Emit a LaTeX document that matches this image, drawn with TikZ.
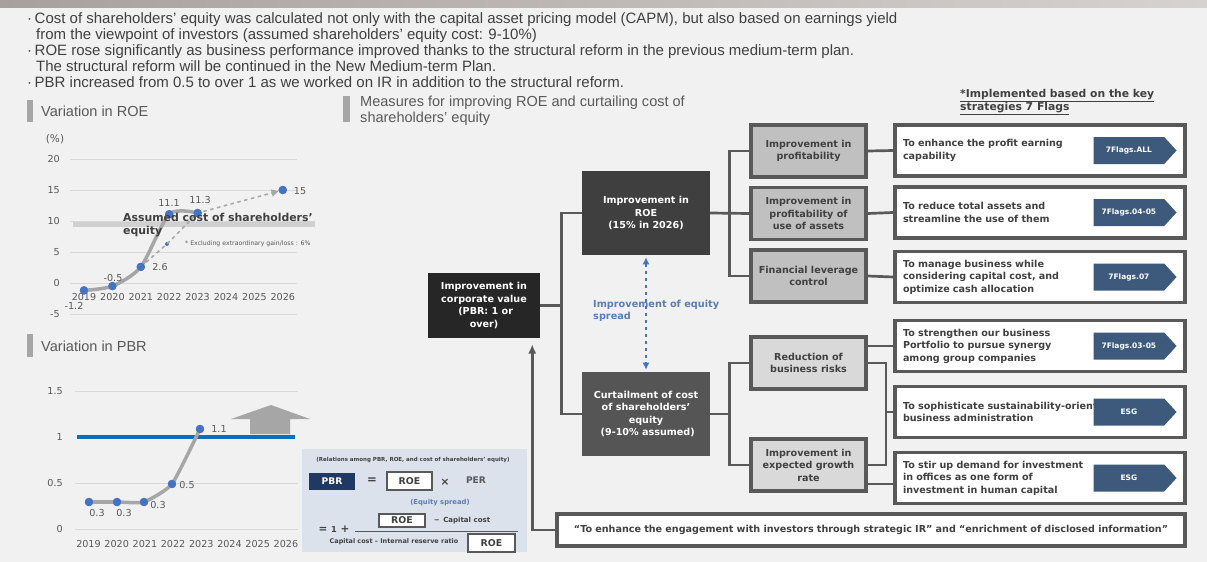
\documentclass[tikz,border=0pt]{standalone}
\usepackage{fontspec}
\setmainfont{Liberation Sans}
\newfontfamily\vfont{DejaVu Sans}
\usetikzlibrary{positioning, calc, arrows.meta, shapes.symbols}
\definecolor{linegray}{HTML}{595959}
\definecolor{corpfill}{HTML}{262626}
\definecolor{roefill}{HTML}{3F3F3F}
\definecolor{curtfill}{HTML}{555555}
\definecolor{levtop}{HTML}{C0C0C0}
\definecolor{levbot}{HTML}{D9D9D9}
\definecolor{flagblue}{HTML}{3D5A7D}
\definecolor{dotblue}{HTML}{4472C4}
\definecolor{pbrblue}{HTML}{0070C0}
\definecolor{trendgray}{HTML}{A6A6A6}
\definecolor{formbg}{HTML}{DCE2EC}
\definecolor{navy}{HTML}{1F3864}
\definecolor{textdark}{HTML}{404040}
\definecolor{spreadblue}{HTML}{5A7DB5}
\definecolor{bandgray}{HTML}{D0D0D0}
\definecolor{gridgray}{HTML}{D9D9D9}
\definecolor{pagebg}{HTML}{F1F1F1}
\definecolor{stripl}{HTML}{A8A09C}
\definecolor{stripr}{HTML}{D6D2CF}
\newcommand\boxfont{\vfont\bfseries\fontsize{8.2}{10.6}\selectfont}
\newcommand\flagfont{\vfont\bfseries\fontsize{6.4}{8}\selectfont}
\newcommand\chartfont{\vfont\fontsize{8.2}{10}\selectfont}
\tikzset{
  conn/.style={draw=linegray,line width=2.3pt},
  boxtext/.style={font=\boxfont,align=center,inner sep=0pt},
  corpbox/.style={boxtext,fill=corpfill,text=white,minimum width=3.36cm,minimum height=1.95cm},
  goalbox/.style={boxtext,text=white,minimum width=3.84cm,minimum height=2.52cm},
  levbox/.style={boxtext,draw=linegray,line width=3.2pt,text=textdark,minimum width=3.45cm,minimum height=1.56cm},
  actbox/.style={draw=linegray,line width=3.2pt,fill=white,font=\boxfont,text=textdark,align=left,text width=8.22cm,minimum width=8.7cm,minimum height=1.53cm,inner sep=0pt},
  flag/.style={signal,signal to=east,signal pointer angle=95,fill=flagblue,text=white,font=\flagfont,minimum width=2.49cm,minimum height=0.81cm,inner sep=0pt},
  spread/.style={draw=dotblue,line width=1.2pt,dashed,{Latex[length=6pt,width=6pt]}-{Latex[length=6pt,width=6pt]}},
  bullet/.style={anchor=base west,inner sep=0pt,text=textdark,font=\fontsize{12.8}{13.6}\selectfont},
  header/.style={anchor=west,inner sep=0pt,text=linegray,align=left,font=\fontsize{12.4}{13.6}\selectfont},
  hbar/.style={fill=trendgray},
  grid/.style={draw=gridgray,line width=0.5pt},
  axis/.style={inner sep=0pt,text=linegray,font=\chartfont},
  dot/.style={circle,fill=dotblue,inner sep=0pt,minimum size=0.25cm},
  trendline/.style={draw=trendgray,line width=3pt,line cap=round,line join=round},
  trend/.style={draw=trendgray,line width=1.3pt,dashed},
  ftext/.style={inner sep=0pt,text=textdark,font=\vfont\bfseries\fontsize{5.5}{7}\selectfont},
  roecell/.style={draw=linegray,line width=1pt,fill=white,text=textdark,inner sep=0pt,font=\vfont\bfseries\fontsize{8}{9}\selectfont},
}
\begin{document}
\begin{tikzpicture}[x=0.03cm,y=-0.03cm]
\useasboundingbox (0,0) rectangle (1207,562);
\fill[pagebg] (0,0) rectangle (1207,562);
\shade[left color=stripl,right color=stripr] (0,0) rectangle (1207,8);

% summary bullets
\node[bullet] (b1) at (27,23.5) {·\,Cost of shareholders’ equity was calculated not only with the capital asset pricing model (CAPM), but also based on earnings yield};
\node[bullet] (b2) at (36,39.5) {from the viewpoint of investors (assumed shareholders’ equity cost: 9-10\%)};
\node[bullet] (b3) at (27,55.5) {·\,ROE rose significantly as business performance improved thanks to the structural reform in the previous medium-term plan.};
\node[bullet] (b4) at (36,71.5) {The structural reform will be continued in the New Medium-term Plan.};
\node[bullet] (b5) at (27,87.5) {·\,PBR increased from 0.5 to over 1 as we worked on IR in addition to the structural reform.};

% section headers
\fill[hbar] (27,100) rectangle (33,122);
\node[header] (hroe) at (41,111) {Variation in ROE};
\fill[hbar] (27,334) rectangle (33,357);
\node[header] (hpbr) at (41,346) {Variation in PBR};
\fill[hbar] (343,96) rectangle (350,122);
\node[header] (hmeas) at (360,111) {Measures for improving ROE and curtailing cost of\\shareholders’ equity};
\node[inner sep=0pt,anchor=base west,text=textdark,font=\vfont\bfseries\fontsize{9.2}{11}\selectfont] (note1) at (960,97) {\underline{*Implemented based on the key}};
\node[inner sep=0pt,anchor=base west,text=textdark,font=\vfont\bfseries\fontsize{9.2}{11}\selectfont] (note2) at (960,110.5) {\underline{strategies 7 Flags}};

% ROE chart
\node[axis,font=\vfont\fontsize{9}{10}\selectfont] (pct) at (55,139) {(\%)};
\fill[bandgray] (73,221) rectangle (315,227);
\foreach \v in {20,15,10,5,0,-5} {
  \draw[grid] (70,{283-6.2*\v}) -- (297,{283-6.2*\v});
  \node[axis,anchor=east] at (60,{283-6.2*\v}) {\v};
}
\foreach \yr [count=\i from 0] in {2019,2020,2021,2022,2023,2024,2025,2026}
  \node[axis] at ({84+28.4*\i},297) {\yr};
\node[dot] (r19) at (84,290.4) {};
\node[dot] (r20) at (112.4,286.1) {};
\node[dot] (r21) at (140.8,266.9) {};
\node[dot] (r22) at (169.2,214.2) {};
\node[dot] (r23) at (197.6,213) {};
\node[dot] (r26) at (282.8,190) {};
\node[dot,minimum size=0.12cm] (rx) at (167,244) {};
\draw[trend,-{Triangle[length=6pt,width=6pt]}] (r21.center) -- (rx.center) -- (r23.center) -- (r26);
\draw[trendline] plot[smooth,tension=0.45] coordinates {(r19.center) (r20.center) (r21.center) (r22.center) (r23.center)};
\foreach \p in {r19,r20,r21,r22,r23,r26} \node[dot] at (\p) {};
\node[axis] (l19) at (74,306) {-1.2};
\node[axis] (l20) at (113,278) {-0.5};
\node[axis] (l21) at (160,267) {2.6};
\node[axis] (l22) at (169,203) {11.1};
\node[axis] (l23) at (200,200) {11.3};
\node[axis] (l26) at (300,191) {15};
\node[inner sep=0pt,anchor=west,align=left,text=textdark,font=\vfont\bfseries\fontsize{9.3}{11.5}\selectfont] (assumed) at (123,225) {Assumed cost of shareholders’\\equity};
\node[inner sep=0pt,anchor=west,text=linegray,font=\vfont\fontsize{5.3}{6}\selectfont] (excl) at (185,244) {* Excluding extraordinary gain/loss : 6\%};

% PBR chart
\foreach \v/\l in {1.5/1.5,0.5/0.5,0/0} \draw[grid] (75,{529-92*\v}) -- (298,{529-92*\v});
\foreach \v/\l in {1.5/1.5,1/1,0.5/0.5,0/0} \node[axis,anchor=east] at (63,{529-92*\v}) {\l};
\draw[draw=pbrblue,line width=2.6pt] (77,437) -- (295,437);
\foreach \yr [count=\i from 0] in {2019,2020,2021,2022,2023,2024,2025,2026}
  \node[axis] at ({88.5+28.2*\i},544) {\yr};
\fill[trendgray] (271,405) -- (310,419) -- (290,419) -- (290,434) -- (250,434) -- (250,419) -- (231,419) -- cycle;
\node[dot] (p19) at (89,502) {};
\node[dot] (p20) at (117,502) {};
\node[dot] (p21) at (144,502) {};
\node[dot] (p22) at (172,484) {};
\node[dot] (p23) at (200,429) {};
\draw[trendline] plot[smooth,tension=0.3] coordinates {(p19.center) (p20.center) (p21.center) (p22.center) (p23.center)};
\foreach \p in {p19,p20,p21,p22,p23} \node[dot] at (\p) {};
\node[axis] (m19) at (97,513) {0.3};
\node[axis] (m20) at (124,513) {0.3};
\node[axis] (m21) at (158,505) {0.3};
\node[axis] (m22) at (187,485) {0.5};
\node[axis] (m23) at (219,429) {1.1};

% formula panel
\node[fill=formbg,minimum width=6.75cm,minimum height=3.09cm,inner sep=0pt] (frm) at (414.5,500.5) {};
\node[ftext,font=\vfont\bfseries\fontsize{4.7}{6}\selectfont] (ftl) at (413,460) {(Relations among PBR, ROE, and cost of shareholders’ equity)};
\node[fill=navy,text=white,inner sep=0pt,minimum width=1.38cm,minimum height=0.51cm,font=\vfont\bfseries\fontsize{7.8}{9}\selectfont] (fpbr) at (332,481.5) {PBR};
\node[ftext,font=\vfont\bfseries\fontsize{10}{11}\selectfont] (feq) at (372,481) {=};
\node[roecell,minimum width=1.35cm,minimum height=0.54cm] (froe1) at (409.5,481) {ROE};
\node[ftext,font=\vfont\bfseries\fontsize{9}{10}\selectfont] (ftimes) at (445,482) {×};
\node[ftext,text=linegray,font=\vfont\bfseries\fontsize{7.8}{9}\selectfont] (fper) at (476,480) {PER};
\node[ftext,text=spreadblue,font=\vfont\bfseries\fontsize{5.8}{7}\selectfont] (fspr) at (440,503) {(Equity spread)};
\node[roecell,minimum width=1.38cm,minimum height=0.39cm] (froe2) at (402,520.5) {ROE};
\node[ftext,font=\vfont\bfseries\fontsize{6}{7}\selectfont] (fcap) at (462,521) {−\enspace Capital cost};
\node[ftext,font=\vfont\bfseries\fontsize{9}{10}\selectfont] (fone) at (334,529) {= {\fontsize{7}{8}\selectfont 1} +};
\draw[draw=linegray,line width=0.8pt] (355,531) -- (518,531);
\node[ftext] (fden) at (394,542) {Capital cost – Internal reserve ratio};
\node[roecell,minimum width=1.41cm,minimum height=0.54cm] (froe3) at (491.5,543) {ROE};

% measures tree
\node[corpbox] (corp) at (484,305.5) {Improvement in\\corporate value\\\ (PBR: 1 or\\over)};
\node[goalbox,fill=roefill] (roe) at (646,213) {Improvement in\\ROE\\(15\% in 2026)};
\node[goalbox,fill=curtfill] (curt) at (646,414) {Curtailment of cost\\of shareholders’\\equity\\\ (9-10\% assumed)};

\node[levbox,fill=levtop] (prof) at (808.5,151) {Improvement in\\profitability};
\node[levbox,fill=levtop] (asset) at (808.5,213.5) {Improvement in\\profitability of\\use of assets};
\node[levbox,fill=levtop] (lev) at (808.5,276) {Financial leverage\\control};
\node[levbox,fill=levbot] (risk) at (808.5,363) {Reduction of\\business risks};
\node[levbox,fill=levbot] (grow) at (808.5,465) {Improvement in\\expected growth\\rate};

\node[actbox] (act1) at (1040,150.5) {To enhance the profit earning\\capability};
\node[actbox] (act2) at (1040,212.5) {To reduce total assets and\\streamline the use of them};
\node[actbox] (act3) at (1040,277) {To manage business while\\considering capital cost, and\\optimize cash allocation};
\node[actbox] (act4) at (1040,346) {To strengthen our business\\Portfolio to pursue synergy\\among group companies};
\node[actbox] (act5) at (1040,412) {To sophisticate sustainability-oriented\\business administration};
\node[actbox] (act6) at (1040,478) {To stir up demand for investment\\in offices as one form of\\investment in human capital};
\node[flag,left=0.3cm of act1.east] (f1) {7Flags.ALL};
\node[flag,left=0.3cm of act2.east] (f2) {7Flags.04-05};
\node[flag,left=0.3cm of act3.east] (f3) {7Flags.07};
\node[flag,left=0.3cm of act4.east] (f4) {7Flags.03-05};
\node[flag,left=0.3cm of act5.east] (f5) {ESG};
\node[flag,left=0.3cm of act6.east] (f6) {ESG};
\node[actbox,align=center,text width=18.3cm,minimum width=18.84cm,minimum height=0.96cm] (ir) at (871,530) {“To enhance the engagement with investors through strategic IR” and “enrichment of disclosed information”};

\draw[conn] (corp.east) -- ++(21,0) |- (roe.west);
\draw[conn] (corp.east) -- ++(21,0) |- (curt.west);
\draw[conn] (roe.east) -- ++(19,0) |- (prof.west);
\draw[conn] (roe.east) -- (asset.west);
\draw[conn] (roe.east) -- ++(19,0) |- (lev.west);
\draw[conn] (curt.east) -- ++(19,0) |- (risk.west);
\draw[conn] (curt.east) -- ++(19,0) |- (grow.west);
\draw[conn] (prof.east) -- (act1.west);
\draw[conn] (asset.east) -- (act2.west);
\draw[conn] (lev.east) -- (act3.west);
\draw[conn] (risk.east |- act4.west) -- (act4.west);
\draw[conn] (risk.east) -- ++(18,0) |- (grow.east);
\draw[conn] (risk.east) ++(18,0) |- (act5.west);
\draw[conn] ($(grow.east)+(0,19)$) -- (act6.west |- {$(grow.east)+(0,19)$});
\draw[conn,-{Latex[length=8pt,width=7pt]}] (ir.west) -| ($(corp.south east)+(-8,6)$);

\node[inner sep=0pt,anchor=west,align=left,text=spreadblue,font=\vfont\bfseries\fontsize{8.3}{10}\selectfont] (sprlbl) at (593,311) {Improvement of equity\\spread};
\draw[spread] ($(roe.south)+(0,2)$) -- ($(curt.north)+(0,-2)$);
\end{tikzpicture}
\end{document}
